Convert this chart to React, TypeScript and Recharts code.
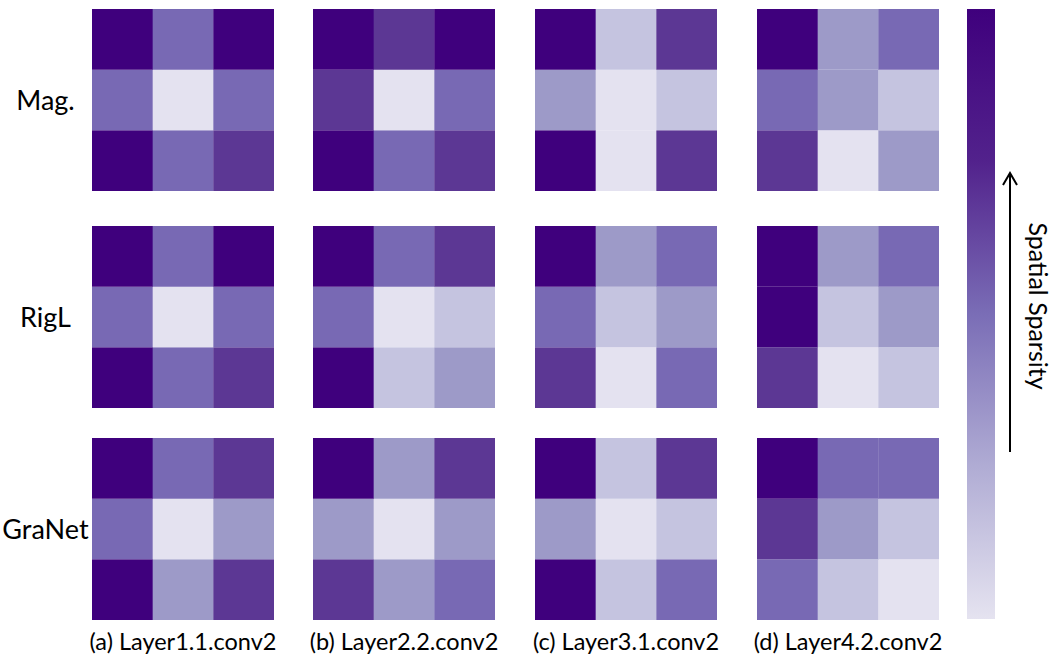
import { BarChart, Bar, XAxis, YAxis, Cell } from "recharts";

const methods = ["Mag.", "RigL", "GraNet"];
const layers = [
  "(a) Layer1.1.conv2",
  "(b) Layer2.2.conv2",
  "(c) Layer3.1.conv2",
  "(d) Layer4.2.conv2",
];

// spatial sparsity level of each 3x3 kernel position, rows listed top to bottom
// (0 = lightest ... 5 = darkest)
const magGrids = [
  [[5, 3, 5], [3, 0, 3], [5, 3, 4]],
  [[5, 4, 5], [4, 0, 3], [5, 3, 4]],
  [[5, 1, 4], [2, 0, 1], [5, 0, 4]],
  [[5, 2, 3], [3, 2, 1], [4, 0, 2]],
];
const riglGrids = [
  [[5, 3, 5], [3, 0, 3], [5, 3, 4]],
  [[5, 3, 4], [3, 0, 1], [5, 1, 2]],
  [[5, 2, 3], [3, 1, 2], [4, 0, 3]],
  [[5, 2, 3], [5, 1, 2], [4, 0, 1]],
];
const granetGrids = [
  [[5, 3, 4], [3, 0, 2], [5, 2, 4]],
  [[5, 2, 4], [2, 0, 2], [4, 2, 3]],
  [[5, 1, 4], [2, 0, 1], [5, 1, 3]],
  [[5, 3, 3], [4, 2, 1], [3, 1, 0]],
];

const levelColors = ["#e4e2f0", "#c5c4e0", "#9d9ac8", "#7869b4", "#5c3794", "#3f007d"];
const colorbarStops = [
  { offset: "0%", color: "#3f007d" },
  { offset: "25%", color: "#52228c" },
  { offset: "50%", color: "#7a6db6" },
  { offset: "75%", color: "#b0acd4" },
  { offset: "100%", color: "#e5e3f0" },
];

const allGrids = [magGrids, riglGrids, granetGrids];

const PANEL = 182;
const panelLeft = [92, 313, 535, 757];
const panelTop = [9, 226, 438];
const font = "Lato, 'Open Sans', sans-serif";

// bars are stacked bottom-up, so the bottom row of the kernel goes first
const stackRows = [
  { key: "bottom", row: 2 },
  { key: "middle", row: 1 },
  { key: "top", row: 0 },
];

function Kernel({ grid }: { grid: number[][] }) {
  const data = [0, 1, 2].map((col) => ({ col, bottom: 1, middle: 1, top: 1 }));
  return (
    <BarChart
      width={PANEL}
      height={PANEL}
      data={data}
      margin={{ top: 0, right: 0, bottom: 0, left: 0 }}
      barCategoryGap={0}
      barGap={0}
    >
      <XAxis dataKey="col" hide />
      <YAxis hide domain={[0, 3]} />
      {stackRows.map(({ key, row }) => (
        <Bar key={key} dataKey={key} stackId="k" isAnimationActive={false}>
          {data.map((d) => (
            <Cell key={d.col} fill={levelColors[grid[row][d.col]]} />
          ))}
        </Bar>
      ))}
    </BarChart>
  );
}

function Colorbar() {
  return (
    <BarChart
      width={28}
      height={610}
      data={[{ v: 1 }]}
      margin={{ top: 0, right: 0, bottom: 0, left: 0 }}
      barCategoryGap={0}
    >
      <defs>
        <linearGradient id="sparsityGrad" x1="0" y1="0" x2="0" y2="1">
          {colorbarStops.map((s) => (
            <stop key={s.offset} offset={s.offset} stopColor={s.color} />
          ))}
        </linearGradient>
      </defs>
      <XAxis hide />
      <YAxis hide domain={[0, 1]} />
      <Bar dataKey="v" fill="url(#sparsityGrad)" isAnimationActive={false} />
    </BarChart>
  );
}

export default function App() {
  return (
    <div
      style={{
        position: "absolute",
        left: 0,
        top: 0,
        width: 1053,
        height: 664,
        background: "#fff",
        fontFamily: font,
        color: "#000",
      }}
    >
      {allGrids.map((grids, r) =>
        grids.map((grid, c) => (
          <div
            key={`${r}-${c}`}
            style={{ position: "absolute", left: panelLeft[c], top: panelTop[r] }}
          >
            <Kernel grid={grid} />
          </div>
        ))
      )}

      {methods.map((m, r) => (
        <div
          key={m}
          style={{
            position: "absolute",
            left: 0,
            width: 91,
            top: panelTop[r] + PANEL / 2 - 17,
            height: 34,
            lineHeight: "34px",
            textAlign: "center",
            fontSize: 27,
          }}
        >
          {m}
        </div>
      ))}

      {layers.map((l, c) => (
        <div
          key={l}
          style={{
            position: "absolute",
            left: panelLeft[c] - 30,
            width: PANEL + 60,
            top: 626,
            height: 30,
            lineHeight: "30px",
            textAlign: "center",
            fontSize: 23.5,
          }}
        >
          {l}
        </div>
      ))}

      <div style={{ position: "absolute", left: 967, top: 9 }}>
        <Colorbar />
      </div>

      <svg
        width={1053}
        height={664}
        style={{ position: "absolute", left: 0, top: 0, pointerEvents: "none" }}
      >
        <line x1={1010} y1={452} x2={1010} y2={173} stroke="#000" strokeWidth={2} />
        <polyline
          points="1003,185 1010,173 1017,185"
          fill="none"
          stroke="#000"
          strokeWidth={2}
        />
        <text
          x={1029}
          y={306}
          transform="rotate(90 1029 306)"
          textAnchor="middle"
          fontSize={25}
          fontFamily={font}
          fill="#000"
        >
          Spatial Sparsity
        </text>
      </svg>
    </div>
  );
}
